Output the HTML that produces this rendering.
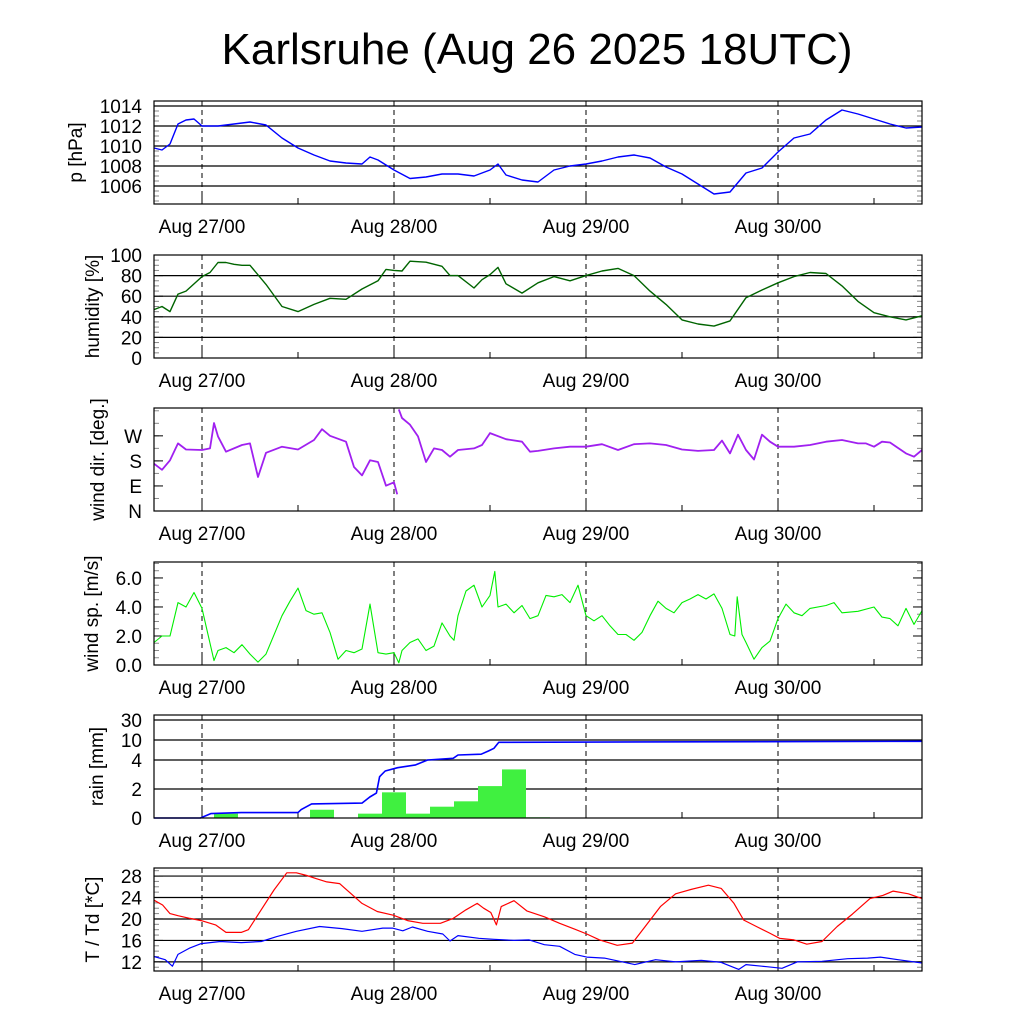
<!DOCTYPE html>
<html><head><meta charset="utf-8"><style>
body{margin:0;background:#fff}
svg{display:block;font-family:"Liberation Sans",sans-serif}
</style></head><body>
<svg id="c" width="1024" height="1024" viewBox="0 0 1024 1024" xmlns="http://www.w3.org/2000/svg">
<rect width="1024" height="1024" fill="#fff"/>
<text x="537" y="64" font-size="44" text-anchor="middle">Karlsruhe (Aug 26 2025 18UTC)</text>
</svg>
<script>
// ---------- data (hours since Aug 26 18UTC) ----------
const dayLabels=["Aug 27/00","Aug 28/00","Aug 29/00","Aug 30/00"];
const dayHours=[6,30,54,78];
const pHours=[0,1,2,3,4,5,6,8,10,12,14,16,18,20,22,24,26,27,28,30,32,34,36,38,40,42,43,44,46,48,50,52,54,56,58,60,62,64,66,68,70,72,74,76,78,80,82,84,86,88,90,92,94,96];
const pVals=[1009.8,1009.6,1010.2,1012.2,1012.6,1012.7,1012,1012,1012.2,1012.4,1012.1,1010.8,1009.8,1009.1,1008.5,1008.3,1008.2,1008.9,1008.6,1007.6,1006.75,1006.9,1007.2,1007.2,1007,1007.6,1008.2,1007.1,1006.6,1006.4,1007.6,1008,1008.2,1008.5,1008.9,1009.1,1008.8,1007.9,1007.2,1006.2,1005.2,1005.4,1007.3,1007.8,1009.4,1010.8,1011.2,1012.6,1013.6,1013.2,1012.7,1012.2,1011.8,1011.9];
const hHours=[0,1,2,3,4,6,7,8,9,10,11,12,14,16,18,20,22,24,26,28,29,30,31,32,34,36,37,38,40,41,42,43,44,46,48,50,52,54,56,58,60,62,64,66,68,70,72,74,76,78,80,82,84,86,88,90,92,94,96];
const hVals=[47,50,45,62,65,79,83,92.7,92.7,91,90,90,71.5,50,45,52,58,57,67,75,86,85,84.5,94,93,89,80,80,68,76,81,88,72,63,73,79,75,80,84.5,87,80,65,52,37,33,31,36,58.5,66,73,79,83,82,70,55,44,40,37,41];
const dHours=[0,1,2,3,4,6,7,7.5,8,9,11,12,13,14,16,18,20,21,22,24,25,26,27,28,29,30,30.4,null,30.6,31,32,33,34,35,36,37,38,40,41,42,44,46,47,48,50,52,54,56,58,60,62,64,66,68,70,71,72,73,74,75,76,77,78,80,82,84,86,88,89,90,91,92,94,95,96];
const dVals=[170,148,182,243,221,219,225,316,268,213,237,243,122,209,231,221,255,294,270,249,158,128,182,176,91,103,60,null,365,334,310,268,176,225,219,195,219,225,237,280,258,249,213,216,225,231,231,240,219,240,243,237,221,216,219,253,207,274,219,185,274,249,231,231,237,249,255,243,243,231,249,246,207,195,219];
const sHours=[0,1,2,3,4,5,6,7.5,8,9,10,11,12,13,14,16,17,18,19,20,21,22,23,24,25,26,27,28,29,30,30.6,31,32,33,34,35,36,37,37.5,38,39,40,41,42,42.6,43,44,45,46,47,48,49,50,51,52,53,54,55,56,57,58,59,60,61,62,63,64,65,66,67,68,69,70,71,72,72.6,72.9,73.5,74,75,76,77,78,79,80,81,82,84,85,86,88,90,91,92,93,94,95,96];
const sVals=[1.55,2,2,4.3,4,5,3.9,0.3,1,1.2,0.85,1.4,0.75,0.2,0.75,3.4,4.4,5.3,3.75,3.5,3.6,2.25,0.4,1,0.85,1.1,4.2,0.85,0.75,0.85,0.15,1,1.55,1.8,1,1.3,2.9,2,1.7,3.4,5.1,5.5,4,4.8,6.45,4,4.2,3.6,4.1,3.2,3.4,4.8,4.7,4.85,4.3,5.5,3.4,3.05,3.4,2.7,2.1,2.1,1.7,2.25,3.4,4.4,3.9,3.6,4.3,4.55,4.85,4.55,4.9,3.9,2.1,2,4.7,2.1,1.55,0.4,1.2,1.65,3.2,4.2,3.6,3.4,3.9,4.1,4.3,3.6,3.7,4,3.3,3.2,2.7,3.9,2.8,3.75];
const rainCumHours=[0,5.8,7.1,10.9,18,18.4,19.7,26,26.97,27.8,28.2,28.9,30.45,32.7,34.2,37.4,38,40.9,41.8,42.5,43.1,96];
const rainCumVals=[0,0,0.3,0.37,0.37,0.58,0.97,1.03,1.45,1.72,2.85,3.24,3.47,3.66,4,4.5,5.5,5.75,6.7,7.5,9.3,9.6];
const rainBarHours=[9,21,27,30,33,36,39,42,45,48];
const rainBarVals=[0.3,0.57,0.3,1.77,0.3,0.78,1.15,2.2,3.35,0.05];
const tHours=[0,1.07,2,3,4.5,5.9,7.7,9,10.9,11.8,13.4,15,16.6,17.8,19.1,20.3,21.6,23.2,24.4,26,27.9,29.9,31.7,33.6,35.8,37.4,39,40.4,41.2,42.1,42.8,43.4,45,46.6,48.8,50.7,52.6,54.1,55.7,57.9,59.8,61.4,63.3,65.2,67.1,69.3,70.9,72.5,73.7,75.3,76.9,78.2,80,81.6,83.5,85.4,87.3,89.5,91.1,92.4,94.3,96];
const tVals=[23.5,22.6,21,20.6,20.1,19.7,18.9,17.5,17.5,18,21.7,25.4,28.6,28.6,28.1,27.5,26.9,26.6,25,22.9,21.4,20.7,19.7,19.2,19.2,20.1,21.7,22.9,22,21.2,18.9,22.3,23.4,21.5,20.4,19.2,18.1,17.2,16.1,15.1,15.5,18.6,22.3,24.7,25.5,26.3,25.7,22.9,19.8,18.6,17.4,16.4,16.1,15.3,15.8,18.6,20.9,23.8,24.4,25.2,24.7,23.8];
const tdHours=[0,1.4,2.3,3,4.5,5.9,8.3,10.9,13.4,15.3,17.8,20.7,23.5,26,28.6,29.8,31.1,32.3,34.2,36.1,37,38,40.6,42.5,45,46.9,48.8,50.7,52.6,54.1,56.3,58.2,60.1,62.7,65.2,68.4,70.9,73.1,74,76.6,78.5,80.4,83.5,86.7,89.2,90.8,93,96];
const tdVals=[13,12.4,11.2,13.4,14.6,15.4,15.8,15.6,15.8,16.7,17.7,18.6,18.2,17.7,18.3,18.3,17.8,18.5,17.7,17.2,15.9,16.9,16.4,16.2,16,16.1,15.2,14.9,13.4,12.9,12.7,12.1,11.5,12.4,12,12.3,11.9,10.6,11.5,11.1,10.8,12,12.1,12.6,12.7,12.9,12.4,11.8];
const pTicks=[1006,1008,1010,1012,1014];
const hTicks=[0,20,40,60,80,100];
const dTicks=[0,90,180,270];
const dTickLabels=["N","E","S","W"];
const sTicks=[0,2,4,6];
const rainTicks=[0,2,4,10,30];
const tTicks=[12,16,20,24,28];

// ---------- drawing ----------
const NS="http://www.w3.org/2000/svg";
const svg=document.getElementById('c');
const X0=154,X1=922,H=103;
function xs(h){return X0+(X1-X0)*h/96;}
function el(tag,attrs,parent){const e=document.createElementNS(NS,tag);for(const k in attrs)e.setAttribute(k,attrs[k]);(parent||svg).appendChild(e);return e;}
function lin(d0,d1,top){return v=>top+H-(v-d0)/(d1-d0)*H;}
function rainY(v){const vs=[0,2,4,10,30,40],ys=[818,789,760,740,720,715];for(let i=0;i<vs.length-1;i++){if(v<=vs[i+1])return ys[i]+(v-vs[i])/(vs[i+1]-vs[i])*(ys[i+1]-ys[i]);}return 715;}
function pathD(hs,vs,ys){let d="",pen=false;for(let i=0;i<hs.length;i++){if(hs[i]===null||vs[i]===null){pen=false;continue;}d+=(pen?"L":"M")+xs(hs[i]).toFixed(1)+","+ys(vs[i]).toFixed(1);pen=true;}return d;}

function panel(name,top,ys,ticks,labels,grid,title,titleX,minorStep,d0,d1){
  const g=el('g',{});
  
  
  if(grid){ticks.forEach(t=>{const y=ys(t);if(y>top+0.5&&y<top+H-0.5){const l=el('line',{x1:X0,x2:X1,y1:y,y2:y,stroke:'#000','stroke-width':1.2},g);}});}
  if(minorStep){for(let v=d0;v<=d1+1e-9;v+=minorStep){const y=ys(v);if(y<top||y>top+H)continue;el('line',{x1:X0,x2:X0+5,y1:y,y2:y,stroke:'#888','stroke-width':1},g);el('line',{x1:X1-5,x2:X1,y1:y,y2:y,stroke:'#888','stroke-width':1},g);}}
  ticks.forEach((t,i)=>{const y=ys(t);
    el('line',{x1:X0,x2:X0+9,y1:y,y2:y,stroke:'#000','stroke-width':1},g);
    el('line',{x1:X1-9,x2:X1,y1:y,y2:y,stroke:'#000','stroke-width':1},g);
    const tx=el('text',{x:X0-12,y:y+7,'font-size':19,'text-anchor':'end'},g);
    
    
    tx.textContent=labels[i];});
  dayHours.forEach((h,i)=>{const x=xs(h);
    const l=el('line',{x1:x,x2:x,y1:top,y2:top+H,stroke:'#000','stroke-width':1,'stroke-dasharray':'5,4'},g);
    
    
    el('line',{x1:x,x2:x,y1:top+H-9,y2:top+H,stroke:'#000'},g);
    const tx=el('text',{x:x,y:top+H+29,'font-size':19,'text-anchor':'middle'},g);
    
    
    tx.textContent=dayLabels[i];});
  [18,42,66,90].forEach(h=>{const x=xs(h);el('line',{x1:x,x2:x,y1:top+H-6,y2:top+H,stroke:'#000'},g);});
  const yt=el('text',{x:0,y:0,'font-size':19,'text-anchor':'middle',transform:`translate(${titleX},${top+H/2}) rotate(-90)`},g);
  
  
  yt.textContent=title;
  return g;
}
function frame(g,top){el('rect',{x:X0,y:top,width:X1-X0,height:H,fill:'none',stroke:'#000','stroke-width':1.2},g);}
function series(g,name,hs,vs,ys,color,w){const p=el('path',{d:pathD(hs,vs,ys),fill:'none',stroke:color,'stroke-width':w||1.4,'stroke-linejoin':'round'},g);}

let yP=lin(1004.2,1014.5,101);
let g=panel('pressure',101,yP,pTicks,pTicks.map(String),true,'p [hPa]',82,0.5,1004.5,1014.5);
series(g,'pressure-line',pHours,pVals,yP,'#0000ff');frame(g,101);
let yH=lin(0,100,255);
g=panel('humidity',255,yH,hTicks,hTicks.map(String),true,'humidity [%]',99,5,0,100);
series(g,'humidity-line',hHours,hVals,yH,'#006400');frame(g,255);
let yD=lin(0,370,408);
g=panel('wind-dir',408,yD,dTicks,dTickLabels,false,'wind dir. [deg.]',104,45,0,360);
series(g,'wind-dir-line',dHours,dVals,yD,'#a020f0',1.8);frame(g,408);
let yS=lin(0,7.1,562);
g=panel('wind-speed',562,yS,sTicks,sTicks.map(v=>v.toFixed(1)),false,'wind sp. [m/s]',98,0.5,0,7);
series(g,'wind-speed-line',sHours,sVals,yS,'#00ee00',1.1);frame(g,562);
g=panel('rain',715,rainY,rainTicks,rainTicks.map(String),true,'rain [mm]',103,0,0,0);
rainBarHours.forEach((h,i)=>{const y=rainY(rainBarVals[i]);
  const r=el('rect',{x:xs(h-1.5),y:y,width:xs(h+1.5)-xs(h-1.5),height:818-y,fill:'#40f040'},g);
  
  });
series(g,'rain-cumulative-line',rainCumHours,rainCumVals,rainY,'#0000ff',1.6);frame(g,715);
let yT=lin(10.3,29.5,868);
g=panel('temperature',868,yT,tTicks,tTicks.map(String),true,'T / Td [*C]',99,1,11,29);
series(g,'temperature-line',tHours,tVals,yT,'#ff0000',1.2);
series(g,'dewpoint-line',tdHours,tdVals,yT,'#0000ff',1.2);frame(g,868);
</script>
</body></html>
